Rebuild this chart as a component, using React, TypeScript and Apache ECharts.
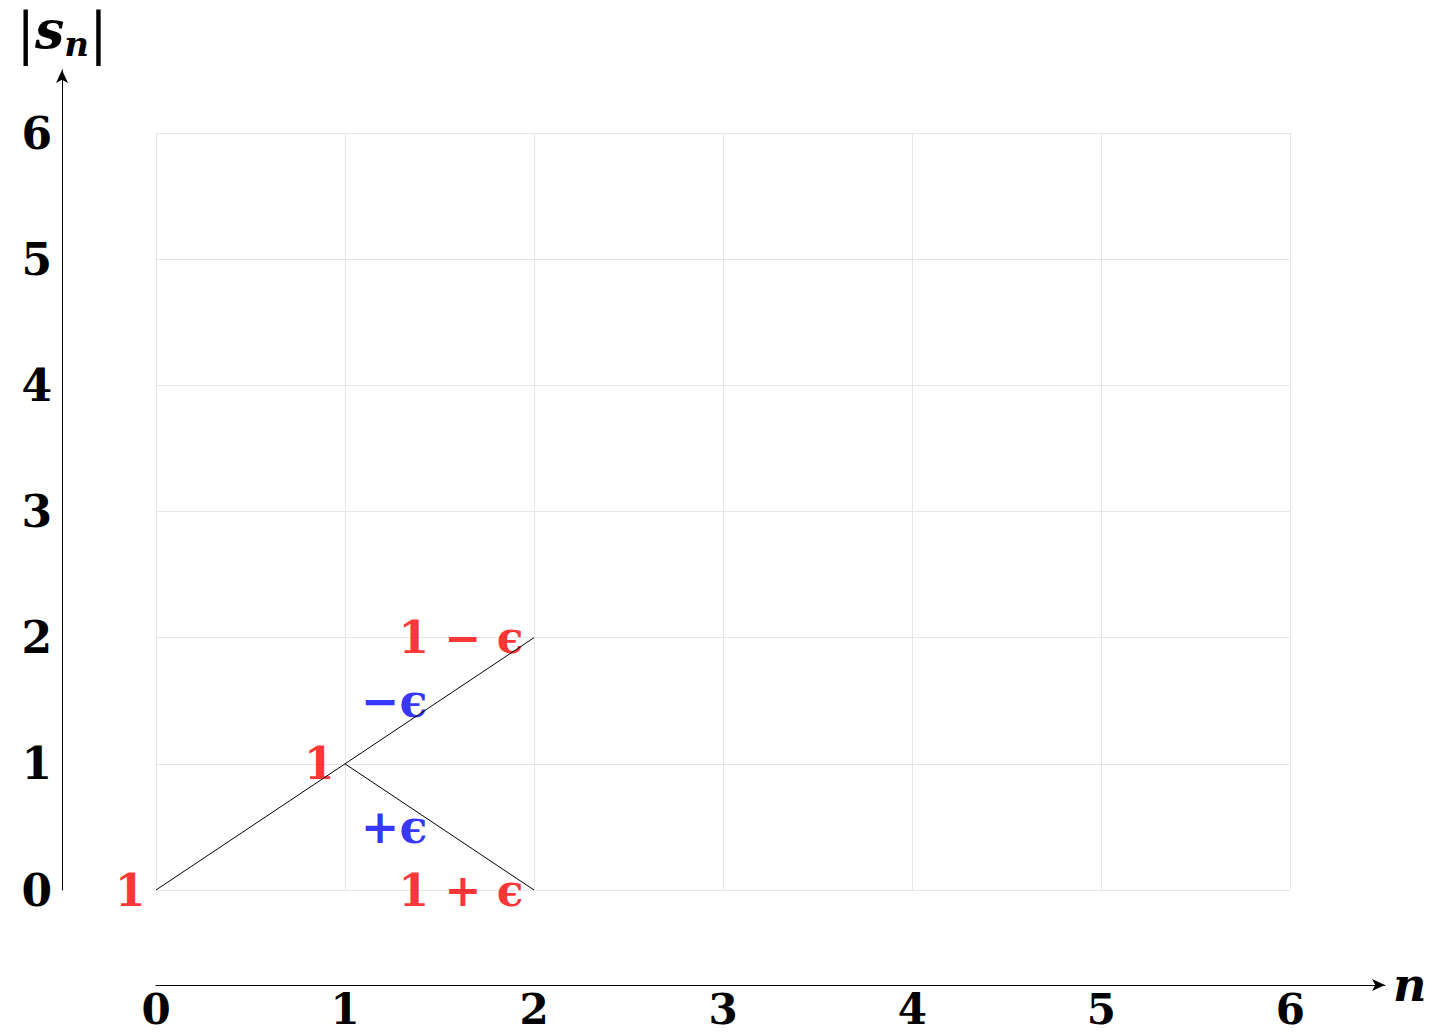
import React, { useEffect, useRef } from "react";
import * as echarts from "echarts";

const tickValues = [0, 1, 2, 3, 4, 5, 6];
const upperPath = [[0, 0], [1, 1], [2, 2]];
const lowerPath = [[1, 1], [2, 0]];
const redLabelPoints = [[0, 0], [1, 1], [2, 2], [2, 0]];
const redLabelTexts = ["1", "1", "1 − ϵ", "1 + ϵ"];
const blueLabelPoints = [[1.26, 1.5], [1.26, 0.5]];
const blueLabelTexts = ["−ϵ", "+ϵ"];

const FONT = "DejaVu Serif";

export default function App() {
  const ref = useRef<HTMLDivElement>(null);
  useEffect(() => {
    if (!ref.current) return;
    const chart = echarts.init(ref.current, undefined, { renderer: "svg" });
    const tickFmt = (v: number) => (tickValues.includes(v) ? String(v) : "");
    const labelStyle = {
      fontFamily: FONT,
      fontWeight: "bold" as const,
      fontSize: 44,
      lineHeight: 36,
      color: "#000",
    };
    chart.setOption({
      animation: false,
      backgroundColor: "#fff",
      grid: [
        { left: 156, top: 133, width: 1134, height: 757 },
        { left: 156, top: 70, width: 1229, height: 820 },
      ],
      xAxis: [
        {
          gridIndex: 0, type: "value", min: 0, max: 6, interval: 1,
          axisLine: { show: false }, axisTick: { show: false }, axisLabel: { show: false },
          splitLine: { show: true, lineStyle: { color: "#e6e6e6", width: 1 } },
        },
        {
          gridIndex: 1, type: "value", min: 0, max: 6.5, interval: 1,
          position: "bottom", offset: 95,
          axisLine: {
            show: true, onZero: false, symbol: ["none", "arrow"], symbolSize: [9, 13],
            lineStyle: { color: "#000", width: 1 },
          },
          axisTick: { show: false },
          splitLine: { show: false },
          axisLabel: { ...labelStyle, fontSize: 42, lineHeight: 34, margin: 7, formatter: tickFmt, showMaxLabel: false },
          name: "n",
          nameLocation: "end",
          nameGap: 8,
          nameTextStyle: {
            fontFamily: FONT, fontWeight: "bold", fontStyle: "italic", fontSize: 46, color: "#000",
            verticalAlign: "middle", padding: [0, 0, 8, 0],
          },
        },
      ],
      yAxis: [
        {
          gridIndex: 0, type: "value", min: 0, max: 6, interval: 1,
          axisLine: { show: false }, axisTick: { show: false }, axisLabel: { show: false },
          splitLine: { show: true, lineStyle: { color: "#e6e6e6", width: 1 } },
        },
        {
          gridIndex: 1, type: "value", min: 0, max: 6.5, interval: 1,
          position: "left", offset: 94,
          axisLine: {
            show: true, onZero: false, symbol: ["none", "arrow"], symbolSize: [9, 13],
            lineStyle: { color: "#000", width: 1 },
          },
          axisTick: { show: false },
          splitLine: { show: false },
          axisLabel: { ...labelStyle, margin: 10, formatter: tickFmt, showMaxLabel: false },
          name: "{b||}{s|s}{n|n}{b||}",
          nameLocation: "end",
          nameGap: 9,
          nameTextStyle: {
            align: "center",
            rich: {
              b: { fontFamily: FONT, fontSize: 56, color: "#000", fontWeight: "normal", verticalAlign: "bottom" },
              s: { fontFamily: FONT, fontSize: 52, color: "#000", fontWeight: "bold", fontStyle: "italic", verticalAlign: "bottom", padding: [0, 0, 6, 0] },
              n: { fontFamily: FONT, fontSize: 34, color: "#000", fontWeight: "bold", fontStyle: "italic", verticalAlign: "bottom" },
            },
          },
        },
      ],
      series: [
        {
          type: "line", xAxisIndex: 0, yAxisIndex: 0, data: upperPath, symbol: "none",
          lineStyle: { color: "#000", width: 1 }, silent: true,
        },
        {
          type: "line", xAxisIndex: 0, yAxisIndex: 0, data: lowerPath, symbol: "none",
          lineStyle: { color: "#000", width: 1 }, silent: true,
        },
        {
          type: "scatter", xAxisIndex: 0, yAxisIndex: 0, symbolSize: 1,
          itemStyle: { color: "rgba(0,0,0,0)" },
          data: redLabelPoints.map((p, i) => ({ value: p, t: redLabelTexts[i] })),
          label: {
            show: true, position: "left", distance: 10,
            formatter: (p: any) => p.data.t,
            fontFamily: FONT, fontWeight: "bold", fontSize: 44, color: "#ff0000",
          },
        },
        {
          type: "scatter", xAxisIndex: 0, yAxisIndex: 0, symbolSize: 1,
          itemStyle: { color: "rgba(0,0,0,0)" },
          data: blueLabelPoints.map((p, i) => ({ value: p, t: blueLabelTexts[i] })),
          label: {
            show: true, position: "inside",
            formatter: (p: any) => p.data.t,
            fontFamily: FONT, fontWeight: "bold", fontSize: 46, color: "#0000ff",
          },
        },
      ],
    });
    return () => chart.dispose();
  }, []);
  return (
    <div
      ref={ref}
      style={{ position: "fixed", left: 0, top: 0, width: 1437, height: 1033 }}
    />
  );
}
